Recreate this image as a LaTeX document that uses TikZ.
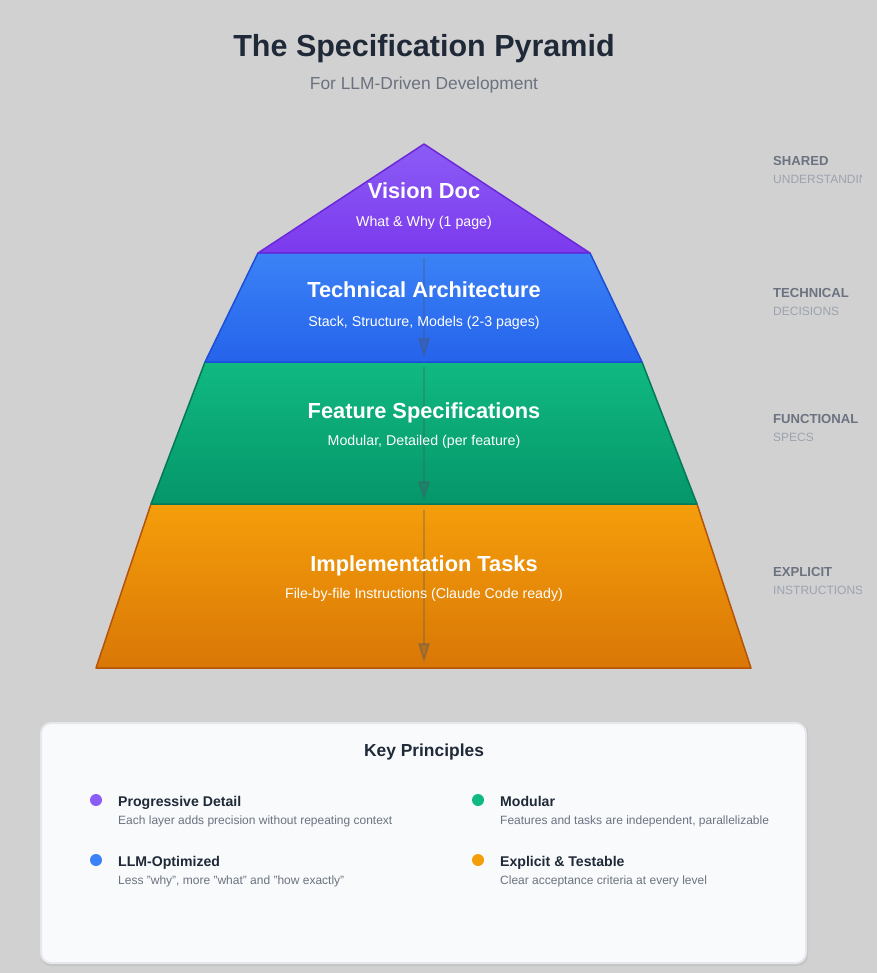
\documentclass[tikz,border=0pt]{standalone}
\usepackage{fontspec}
\setmainfont{Liberation Sans}
\usetikzlibrary{arrows.meta}
\definecolor{bg}{RGB}{209,209,209}
\definecolor{titlec}{RGB}{31,41,55}
\definecolor{subc}{RGB}{107,114,128}
\definecolor{lightc}{RGB}{156,163,175}
\definecolor{purT}{RGB}{139,92,246}\definecolor{purB}{RGB}{124,58,237}\definecolor{purD}{RGB}{109,40,217}
\definecolor{bluT}{RGB}{59,130,246}\definecolor{bluB}{RGB}{37,99,235}\definecolor{bluD}{RGB}{29,78,216}
\definecolor{grnT}{RGB}{16,185,129}\definecolor{grnB}{RGB}{5,150,105}\definecolor{grnD}{RGB}{4,120,87}
\definecolor{orgT}{RGB}{245,158,11}\definecolor{orgB}{RGB}{217,119,6}\definecolor{orgD}{RGB}{180,83,9}
\definecolor{boxfill}{RGB}{248,250,252}
\definecolor{boxline}{RGB}{229,231,235}
\definecolor{arrc}{RGB}{75,85,99}
\tikzset{
  layer/.style={line width=1.5pt, line join=round},
  lname/.style={text=white, font=\bfseries\fontsize{21.8}{26}\selectfont, anchor=base, inner sep=0pt},
  ldesc/.style={text=white, font=\fontsize{14.2}{17}\selectfont, anchor=base, inner sep=0pt},
  flow/.style={draw=arrc, opacity=0.3, line width=2pt, -{Triangle[length=20pt,width=12pt]}},
  sidehead/.style={text=subc, font=\bfseries\fontsize{13.1}{15}\selectfont, anchor=base west, inner sep=0pt},
  sidesub/.style={text=lightc, font=\fontsize{12}{15}\selectfont, anchor=base west, inner sep=0pt},
  dot/.style={circle, inner sep=0pt, minimum size=12pt},
  ihead/.style={text=titlec, font=\bfseries\fontsize{14.1}{17}\selectfont, anchor=base west, inner sep=0pt},
  idesc/.style={text=subc, font=\fontsize{12}{15}\selectfont, anchor=base west, inner sep=0pt},
}
\begin{document}
\begin{tikzpicture}[x=1pt,y=-1pt]
\fill[bg] (0,0) rectangle (877,973);
\useasboundingbox (0,0) rectangle (877,973);

\node[text=titlec, font=\bfseries\fontsize{30.5}{34}\selectfont, anchor=base, inner sep=0pt] (title) at (424,57) {The Specification Pyramid};
\node[text=subc, font=\fontsize{17.4}{20}\selectfont, anchor=base, inner sep=0pt] (subtitle) at (424,90) {For LLM-Driven Development};

% layers
\draw[layer, draw=orgD, top color=orgT, bottom color=orgB] (151,504) -- (697,504) -- (751,668) -- (96,668) -- cycle;
\draw[layer, draw=grnD, top color=grnT, bottom color=grnB] (205,362) -- (642,362) -- (697,504) -- (151,504) -- cycle;
\draw[layer, draw=bluD, top color=bluT, bottom color=bluB] (258,253) -- (590,253) -- (642,362) -- (205,362) -- cycle;
\draw[layer, draw=purD, top color=purT, bottom color=purB] (424,144) -- (590,253) -- (258,253) -- cycle;

% flow arrows
\coordinate (a1s) at (424,258); \coordinate (a1e) at (424,358);
\coordinate (a2s) at (424,367); \coordinate (a2e) at (424,501);
\coordinate (a3s) at (424,510); \coordinate (a3e) at (424,663);
\draw[flow] (a1s) -- (a1e);
\draw[flow] (a2s) -- (a2e);
\draw[flow] (a3s) -- (a3e);

\node[lname] (vis) at (424,199) {Vision Doc};
\node[ldesc] (visd) at (424,227) {What \& Why (1 page)};
\node[lname] (tech) at (424,298) {Technical Architecture};
\node[ldesc] (techd) at (424,326) {Stack, Structure, Models (2-3 pages)};
\node[lname] (feat) at (424,418) {Feature Specifications};
\node[ldesc] (featd) at (424,445) {Modular, Detailed (per feature)};
\node[lname] (impl) at (424,571) {Implementation Tasks};
\node[ldesc] (impld) at (424,598) {File-by-file Instructions (Claude Code ready)};

% side labels
\begin{scope}
\clip (760,130) rectangle (861,620);
\node[sidehead] (s1) at (773,166) {SHARED};
\node[sidesub] (s1b) at (773,184) {UNDERSTANDING};
\node[sidehead] (s2) at (773,298) {TECHNICAL};
\node[sidesub] (s2b) at (773,315) {DECISIONS};
\node[sidehead] (s3) at (773,423) {FUNCTIONAL};
\node[sidesub] (s3b) at (773,441) {SPECS};
\node[sidehead] (s4) at (773,576) {EXPLICIT};
\node[sidesub] (s4b) at (773,594) {INSTRUCTIONS};
\end{scope}

% principles box
\fill[black, opacity=0.06, rounded corners=11pt] (40,722) rectangle (808,966);
\draw[draw=boxline, fill=boxfill, line width=2pt, rounded corners=10pt] (41,723) rectangle (806,963);
\node[text=titlec, font=\bfseries\fontsize{17.4}{20}\selectfont, anchor=base, inner sep=0pt] (kp) at (424,756) {Key Principles};

\node[dot, fill=purT] (d1) at (96,800) {};
\node[ihead] (h1) at (118,806) {Progressive Detail};
\node[idesc] (t1) at (118,824) {Each layer adds precision without repeating context};
\node[dot, fill=grnT] (d2) at (478,800) {};
\node[ihead] (h2) at (500,806) {Modular};
\node[idesc] (t2) at (500,824) {Features and tasks are independent, parallelizable};
\node[dot, fill=bluT] (d3) at (96,860) {};
\node[ihead] (h3) at (118,866) {LLM-Optimized};
\node[idesc] (t3) at (118,884) {Less "why", more "what" and "how exactly"};
\node[dot, fill=orgT] (d4) at (478,860) {};
\node[ihead] (h4) at (500,866) {Explicit \& Testable};
\node[idesc] (t4) at (500,884) {Clear acceptance criteria at every level};
\end{tikzpicture}
\end{document}
